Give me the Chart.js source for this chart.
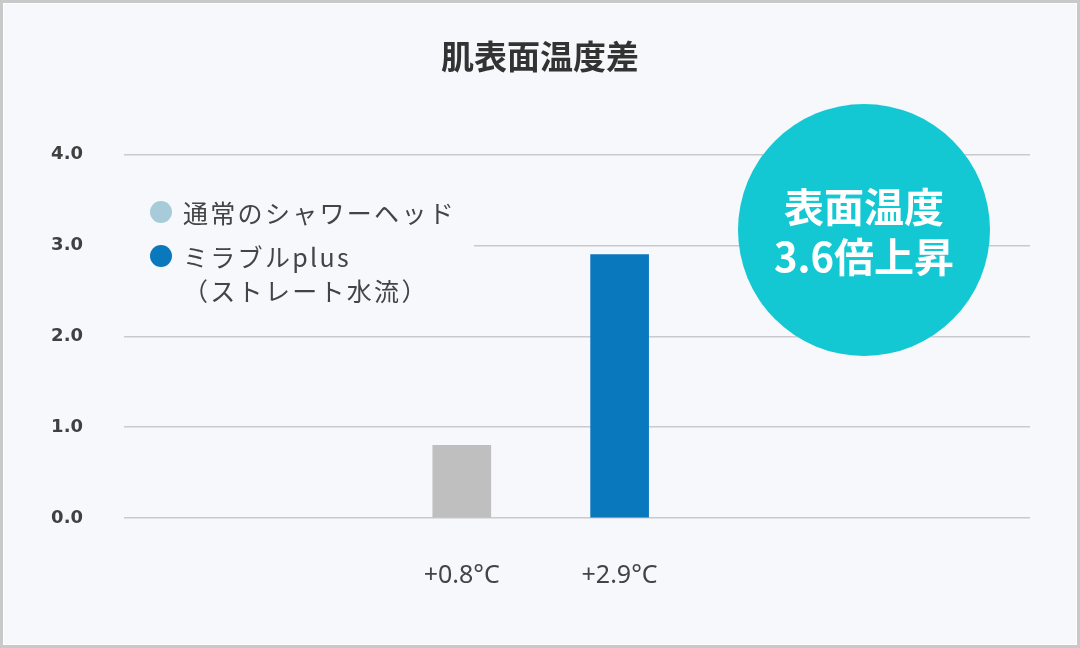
<!DOCTYPE html>
<html>
<head>
<meta charset="utf-8">
<script src="https://cdn.jsdelivr.net/npm/chart.js@4"></script>
<style>
    body { margin: 0; background: #f7f8fc; }
    #wrap { position: relative; width: 1080px; height: 648px; background: #f7f8fc; overflow: hidden; }
    #wrap canvas { position: absolute; left: 0; top: 0; }
    #frame { position: absolute; left: 0; top: 0; width: 1080px; height: 648px; box-sizing: border-box;
        border: 3px solid #c9c9c9; box-shadow: inset 0 0 0 1px #ffffff; pointer-events: none; }
    #legend { position: absolute; left: 124px; top: 195px; width: 350px; height: 116px; background: #f7f8fc;
        font-family: "Noto Sans CJK JP", "Noto Sans", sans-serif; font-size: 25px; letter-spacing: 2.3px; color: #444; }
    .item { position: relative; padding-left: 59px; line-height: 34px; margin-bottom: 10px; }
    .dot { position: absolute; left: 26px; top: 6px; width: 22px; height: 22px; border-radius: 50%; }
    #badge { position: absolute; left: 738px; top: 104px; width: 252px; height: 252px; border-radius: 50%;
        background: #14c8d3; color: #fff; font-family: "Noto Sans CJK JP", sans-serif; font-weight: bold;
        font-size: 40px; line-height: 50px; display: flex; flex-direction: column; justify-content: center;
        align-items: center; text-align: center; }
</style>
</head>
<body>
<div id="wrap">
    <canvas id="plot-data" width="1080" height="648"></canvas>
    <div id="legend"></div>
    <div id="badge"></div>
    <div id="frame"></div>
</div>
<script>
// 肌表面温度差
const chartTitle = '肌表面温度差';
const categories = ['+0.8°C', '+2.9°C'];
const values = [0.8, 2.9];
const barColors = ['#bfbfbf', '#0a78bd'];
const legendNames = ['通常のシャワーヘッド', 'ミラブルplus<br>（ストレート水流）'];
const legendColors = ['#a7cbd8', '#0a78bd'];
const badgeLines = ['表面温度', '3.6倍上昇'];
const yTicks = [0, 1, 2, 3, 4];

let legendHtml = '';
for (let i = 0; i < legendNames.length; i++) {
    legendHtml += '<div class="item"><span class="dot" style="background:' + legendColors[i] + '"></span>' + legendNames[i] + '</div>';
}
document.getElementById('legend').innerHTML = legendHtml;
document.getElementById('badge').innerHTML = badgeLines.map(t => '<div>' + t + '</div>').join('');

const plot = values.map((v, i) => ({ x: i, y: v }));

var ctx = document.getElementById('plot-data').getContext('2d');
var graph_data = new Chart(ctx, {
    type: 'bar',
    data: {
        datasets: [{
            data: plot,
            backgroundColor: barColors,
            barThickness: 58,
            borderWidth: 0
        }]
    },
    options: {
        responsive: false,
        animation: false,
        layout: {
            padding: { left: 50, right: 50, top: 0, bottom: 0 }
        },
        plugins: {
            legend: { display: false },
            tooltip: { enabled: false },
            title: {
                display: true,
                text: chartTitle,
                color: '#333',
                font: { family: '"Noto Sans CJK JP", sans-serif', size: 33, weight: 'bold' },
                padding: { top: 37, bottom: 78 }
            }
        },
        scales: {
            x: {
                type: 'linear',
                offset: false,
                min: -2.14,
                max: 3.6,
                grid: { display: false },
                border: { display: false },
                afterBuildTicks: function(scale) {
                    scale.ticks = categories.map((c, i) => ({ value: i }));
                },
                afterFit: function(scale) {
                    scale.height = 130;
                },
                ticks: {
                    padding: 35,
                    color: '#444',
                    font: { family: '"Noto Sans", sans-serif', size: 25 },
                    callback: function(value) {
                        return categories[value];
                    }
                }
            },
            y: {
                min: 0,
                max: 4,
                afterBuildTicks: function(scale) {
                    scale.ticks = yTicks.map(v => ({ value: v }));
                },
                afterFit: function(scale) {
                    scale.width = 74;
                },
                grid: {
                    color: '#c8cace',
                    lineWidth: 1.5,
                    drawTicks: false
                },
                border: { display: false },
                ticks: {
                    padding: 41,
                    color: '#404040',
                    font: { family: '"DejaVu Sans", sans-serif', size: 18, weight: 'bold' },
                    callback: function(value) {
                        return value.toFixed(1);
                    }
                }
            }
        }
    }
});
</script>
</body>
</html>
